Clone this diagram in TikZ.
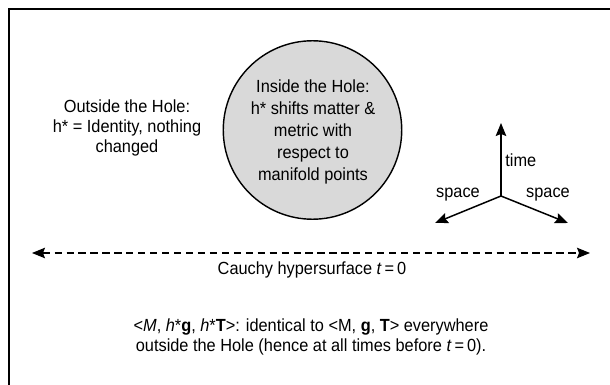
\documentclass[tikz,border=0pt]{standalone}
\usepackage{fontspec}
\setmainfont{Liberation Sans}[FakeStretch=0.93]
\usepackage{xcolor}
\usetikzlibrary{arrows.meta, positioning}

\begin{document}
\begin{tikzpicture}[x=0.02cm, y=-0.02cm, font=\fontsize{10}{11.5}\selectfont,
  lbl/.style={align=center, inner sep=0pt},
  tip/.tip={Stealth[length=2.6mm, width=2.1mm, inset=0.4mm]},
  axis/.style={line width=0.85pt, -tip}]
  \useasboundingbox (0,0) rectangle (610,385);
  % frame (runs off the page on the right and at the bottom)
  \draw[line width=1.4pt] (9,9) rectangle (640,420);

  % outside the hole
  \node[lbl] (outside) at (127,128) {Outside the Hole:\\h* = Identity, nothing\\changed};

  % the hole
  \node[circle, draw, line width=0.8pt, fill=black!15, minimum size=3.57cm, inner sep=0pt]
    (hole) at (312.5,130) {};
  \node[lbl, font=\fontsize{10}{12.4}\selectfont] (inside) at (313,132)
    {Inside the Hole:\\h* shifts matter \&\\metric with\\respect to\\manifold points};

  % space-time axes
  \coordinate (origin) at (501,196);
  \coordinate (timetip) at (501,123);
  \coordinate (spaceL) at (435,223);
  \coordinate (spaceR) at (568,223);
  \draw[axis] (origin) -- (timetip);
  \draw[axis] (origin) -- (spaceL);
  \draw[axis] (origin) -- (spaceR);
  \node[lbl, anchor=west] (time) at (505,160) {time};
  \node[lbl] (spacel) at (458,195) {space};
  \node[lbl] (spacer) at (548,195) {space};

  % Cauchy hypersurface
  \coordinate (cauchyL) at (32,253);
  \coordinate (cauchyR) at (590,253);
  \draw[line width=0.7pt, dash pattern=on 4.1pt off 2.7pt, tip-tip] (cauchyL) -- (cauchyR);
  \node[lbl] (cauchy) at (312,270) {Cauchy hypersurface \textit{t}\,=\,0};

  % bottom remark
  \node[lbl] (remark) at (311,337)
    {<\textit{M}, \textit{h}*\textbf{g}, \textit{h}*\textbf{T}>: identical to <M, \textbf{g}, \textbf{T}> everywhere\\
     outside the Hole (hence at all times before \textit{t}\,=\,0).};
\end{tikzpicture}
\end{document}
